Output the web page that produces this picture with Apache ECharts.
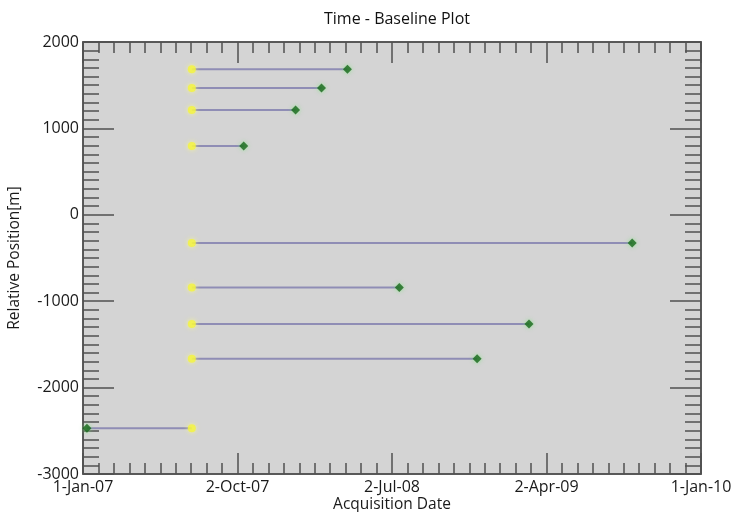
<!DOCTYPE html>
<html><head><meta charset="utf-8">
<script src="https://cdn.jsdelivr.net/npm/echarts@6/dist/echarts.min.js"></script>
<style>html,body{margin:0;padding:0;background:#fff}#c{width:736px;height:512px}</style>
</head><body><div id="c"></div>
<script>
// Master acquisition (yellow) and slave acquisitions (green)
const masterDate = '2007-07-13';
const slaveDates = ['2008-04-14','2008-02-28','2008-01-13','2007-10-13','2009-09-01','2008-07-15','2009-03-02','2008-11-30','2007-01-08'];
const positions = [1684, 1468, 1213, 796, -325, -841, -1264, -1666, -2471];
const xTickLabels = ['1-Jan-07','2-Oct-07','2-Jul-08','2-Apr-09','1-Jan-10'];
const yTicks = [-3000, -2000, -1000, 0, 1000, 2000];

const DAY = 86400000;
const origin = Date.UTC(2007, 0, 1);
function dayOf(s) { const p = s.split('-'); return Math.round((Date.UTC(+p[0], +p[1]-1, +p[2]) - origin) / DAY); }

const mDay = dayOf(masterDate);
const series = [];
slaveDates.forEach((d, i) => {
  series.push({
    type: 'line', symbol: 'none', silent: true, z: 2,
    data: [[mDay, positions[i]], [dayOf(d), positions[i]]],
    lineStyle: { color: '#8f8db5', width: 2 }
  });
});
series.push({
  type: 'scatter', symbol: 'circle', symbolSize: 8, z: 3,
  data: positions.map(p => [mDay, p]),
  itemStyle: { color: '#f4f43c', shadowColor: 'rgba(255,255,120,0.9)', shadowBlur: 5 }
});
series.push({
  type: 'scatter', symbol: 'diamond', symbolSize: 9, z: 4,
  data: slaveDates.map((d, i) => [dayOf(d), positions[i]]),
  itemStyle: { color: '#17661a', shadowColor: 'rgba(120,230,120,0.9)', shadowBlur: 4 }
});

const FONT = 'Open Sans';
const lineC = '#505050';
const txtC = '#1a1a1a';
function xAxisDef(pos, labels) {
  return {
    type: 'value', position: pos, min: 0, max: 1096, interval: 274,
    axisLine: { show: true, onZero: false, lineStyle: { color: lineC, width: 1.5 } },
    axisTick: { show: true, inside: true, length: 21, lineStyle: { color: lineC, width: 1.5 } },
    minorTick: { show: true, splitNumber: 10, length: 11, lineStyle: { color: lineC, width: 1.5 } },
    splitLine: { show: false },
    axisLabel: { show: labels, margin: 5, fontFamily: FONT, fontSize: 16, color: txtC,
      formatter: v => xTickLabels[Math.round(v / 274)] },
    name: labels ? 'Acquisition Date' : '', nameLocation: 'middle', nameGap: 23, nameMoveOverlap: false,
    nameTextStyle: { fontFamily: FONT, fontSize: 15.5, color: txtC }
  };
}
function yAxisDef(pos, labels) {
  return {
    type: 'value', position: pos, min: yTicks[0], max: yTicks[yTicks.length-1], interval: 1000,
    axisLine: { show: true, onZero: false, lineStyle: { color: lineC, width: 1.5 } },
    axisTick: { show: true, inside: true, length: 31, lineStyle: { color: lineC, width: 1.5 } },
    minorTick: { show: true, splitNumber: 10, length: 16, lineStyle: { color: lineC, width: 1.5 } },
    splitLine: { show: false },
    axisLabel: { show: labels, margin: 4, fontFamily: FONT, fontSize: 16, color: txtC,
      formatter: v => String(v) },
    name: labels ? 'Relative Position[m]' : '', nameLocation: 'middle', nameGap: 60, nameMoveOverlap: false,
    nameTextStyle: { fontFamily: FONT, fontSize: 15.5, color: txtC }
  };
}

const chart = echarts.init(document.getElementById('c'), null, { renderer: 'canvas' });
chart.setOption({
  animation: false,
  backgroundColor: '#ffffff',
  title: { text: 'Time - Baseline Plot', left: 392, top: 6, textAlign: 'center',
    textStyle: { fontFamily: FONT, fontSize: 16, fontWeight: 'normal', color: '#111' } },
  grid: { left: 83, right: 35, top: 42, bottom: 38, show: true, backgroundColor: '#d4d4d4',
    borderColor: lineC, borderWidth: 1.5, containLabel: false, outerBoundsMode: 'none' },
  xAxis: [xAxisDef('bottom', true), xAxisDef('top', false)],
  yAxis: [yAxisDef('left', true), yAxisDef('right', false)],
  series: series
});
</script>
</body></html>
